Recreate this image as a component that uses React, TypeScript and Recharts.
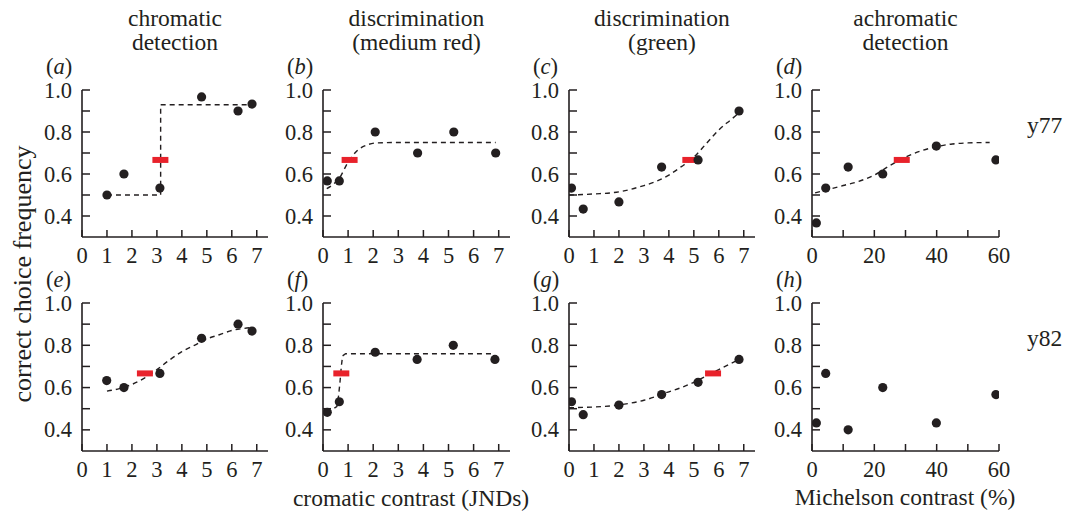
import { ComposedChart, Line, Scatter, XAxis, YAxis } from 'recharts'

const FONT = 'Liberation Serif, Times New Roman, serif'
const INK = '#231f20'
const RED = '#e8222b'

// axes
const jndTicks = [0, 1, 2, 3, 4, 5, 6, 7]
const michelsonTicks = [0, 10, 20, 30, 40, 50, 60]
const michelsonLabels = [0, 20, 40, 60]
const yTicks = [0.4, 0.5, 0.6, 0.7, 0.8, 0.9, 1.0]

// (a) chromatic detection, y77
const aX = [1.0, 1.68, 3.12, 4.79, 6.25, 6.81]
const aY = [0.5, 0.6, 0.533, 0.967, 0.9, 0.933]
const aFitX = [1.0, 3.15, 3.15, 6.8]
const aFitY = [0.5, 0.5, 0.93, 0.93]
const aThreshold = [3.14, 0.667]

// (b) discrimination medium red, y77
const bX = [0.17, 0.65, 2.08, 3.77, 5.21, 6.88]
const bY = [0.567, 0.567, 0.8, 0.7, 0.8, 0.7]
const bFitX = [0.15, 0.4, 0.65, 0.97, 1.35, 1.75, 2.1, 3, 5, 6.88]
const bFitY = [0.53, 0.55, 0.58, 0.65, 0.71, 0.738, 0.748, 0.75, 0.75, 0.75]
const bThreshold = [1.06, 0.667]

// (c) discrimination green, y77
const cX = [0.1, 0.57, 2.0, 3.71, 5.17, 6.81]
const cY = [0.533, 0.433, 0.467, 0.633, 0.667, 0.9]
const cFitX = [0, 1, 2, 3, 3.5, 4, 4.5, 5, 5.5, 6, 6.5, 6.85]
const cFitY = [0.5, 0.505, 0.515, 0.545, 0.565, 0.595, 0.635, 0.68, 0.745, 0.81, 0.86, 0.895]
const cThreshold = [4.86, 0.667]

// (d) achromatic detection, y77
const dX = [1.4, 4.4, 11.6, 22.7, 39.9, 59]
const dY = [0.367, 0.533, 0.633, 0.6, 0.733, 0.667]
const dFitX = [1, 5, 10, 15, 20, 25, 30, 35, 40, 45, 50, 57]
const dFitY = [0.51, 0.525, 0.545, 0.565, 0.595, 0.64, 0.68, 0.71, 0.73, 0.743, 0.748, 0.75]
const dThreshold = [28.8, 0.667]

// (e) chromatic detection, y82
const eX = [0.99, 1.68, 3.12, 4.79, 6.25, 6.81]
const eY = [0.633, 0.6, 0.667, 0.833, 0.9, 0.867]
const eFitX = [1, 1.5, 2, 2.5, 3, 3.5, 4, 4.5, 5, 5.5, 6, 6.5, 6.85]
const eFitY = [0.583, 0.595, 0.615, 0.645, 0.685, 0.73, 0.77, 0.8, 0.83, 0.85, 0.87, 0.88, 0.885]
const eThreshold = [2.52, 0.667]

// (f) discrimination medium red, y82
const fX = [0.17, 0.65, 2.08, 3.75, 5.19, 6.85]
const fY = [0.483, 0.533, 0.767, 0.733, 0.8, 0.733]
const fFitX = [0.15, 0.55, 0.62, 0.68, 0.73, 0.78, 0.9, 6.85]
const fFitY = [0.48, 0.51, 0.56, 0.63, 0.7, 0.75, 0.76, 0.76]
const fThreshold = [0.73, 0.667]

// (g) discrimination green, y82
const gX = [0.1, 0.57, 2.0, 3.71, 5.17, 6.81]
const gY = [0.533, 0.472, 0.517, 0.567, 0.625, 0.733]
const gFitX = [0, 1, 2, 3, 4, 4.5, 5, 5.5, 6, 6.5, 6.85]
const gFitY = [0.505, 0.508, 0.518, 0.54, 0.58, 0.6, 0.625, 0.655, 0.685, 0.715, 0.735]
const gThreshold = [5.77, 0.667]

// (h) achromatic detection, y82 (no fit)
const hX = [1.4, 4.4, 11.6, 22.7, 39.9, 59]
const hY = [0.433, 0.667, 0.4, 0.6, 0.433, 0.567]

const zip = (xs: number[], ys: number[]) => xs.map((x, i) => ({ x, y: ys[i] }))

const txt = (size: number) => ({ fontFamily: FONT, fontSize: size })

function XTick(p: any) {
  const { x, y, payload, labels } = p
  const v = payload.value
  return (
    <g>
      <line x1={x} x2={x} y1={y} y2={y - 7} stroke={INK} strokeWidth={1.5} />
      {labels.includes(v) && (
        <text x={x} y={y + 26} textAnchor="middle" style={txt(22.5)} fill={INK}>
          {v}
        </text>
      )}
    </g>
  )
}

function YTick(p: any) {
  const { x, y, payload } = p
  const v = payload.value
  const showLabel = Math.round(v * 10) % 2 === 0
  return (
    <g>
      <line x1={x} x2={x + 8} y1={y} y2={y} stroke={INK} strokeWidth={1.5} />
      {showLabel && (
        <text x={x - 10} y={y} textAnchor="end" dominantBaseline="central" style={txt(22.5)} fill={INK}>
          {v.toFixed(1)}
        </text>
      )}
    </g>
  )
}

type PanelProps = {
  left: number
  top: number
  width: number
  height: number
  xMax: number
  xTicks: number[]
  xLabels: number[]
  points: { x: number; y: number }[]
  fit?: { x: number; y: number }[]
  fitType?: 'linear' | 'monotone'
  threshold?: number[]
}

function Panel({ left, top, width, height, xMax, xTicks, xLabels, points, fit, fitType = 'monotone', threshold }: PanelProps) {
  return (
    <div style={{ position: 'absolute', left: left - 60, top: top - 20 }}>
      <ComposedChart width={width + 80} height={height + 60} margin={{ top: 20, right: 20, bottom: 0, left: 0 }}>
        <XAxis
          type="number"
          dataKey="x"
          domain={[0, xMax]}
          ticks={xTicks}
          interval={0}
          height={40}
          tickSize={0}
          tickMargin={0}
          tickLine={false}
          axisLine={{ stroke: INK, strokeWidth: 1.6 }}
          tick={(p: any) => <XTick {...p} labels={xLabels} />}
          allowDataOverflow
        />
        <YAxis
          type="number"
          dataKey="y"
          domain={[0.3, 1]}
          ticks={yTicks}
          interval={0}
          width={60}
          tickSize={0}
          tickMargin={0}
          tickLine={false}
          axisLine={{ stroke: INK, strokeWidth: 1.6 }}
          tick={(p: any) => <YTick {...p} />}
          allowDataOverflow
        />
        {fit && (
          <Line
            data={fit}
            dataKey="y"
            type={fitType}
            stroke={INK}
            strokeWidth={1.4}
            strokeDasharray="5 4"
            dot={false}
            activeDot={false}
            isAnimationActive={false}
          />
        )}
        {threshold && (
          <Scatter
            data={[{ x: threshold[0], y: threshold[1] }]}
            isAnimationActive={false}
            shape={(s: any) => <rect x={s.cx - 8} y={s.cy - 3} width={16} height={6} fill={RED} />}
          />
        )}
        <Scatter
          data={points}
          isAnimationActive={false}
          shape={(s: any) => <circle cx={s.cx} cy={s.cy} r={4.6} fill={INK} />}
        />
      </ComposedChart>
    </div>
  )
}

const colLeft = [82, 323, 569, 812]
const colWidth = [186, 187, 186, 187]
const rowTop = [90, 303]
const rowHeight = [147, 148]

const titles = [
  ['chromatic', 'detection'],
  ['discrimination', '(medium red)'],
  ['discrimination', '(green)'],
  ['achromatic', 'detection'],
]
const panelLetters = [['a', 'b', 'c', 'd'], ['e', 'f', 'g', 'h']]
const animalLabels = ['y77', 'y82']

export default function App() {
  const jnd = { xMax: 7.45, xTicks: jndTicks, xLabels: jndTicks }
  const mich = { xMax: 60, xTicks: michelsonTicks, xLabels: michelsonLabels }
  const box = (r: number, c: number) => ({ left: colLeft[c], top: rowTop[r], width: colWidth[c], height: rowHeight[r] })

  return (
    <div style={{ position: 'absolute', left: 0, top: 0, width: 1067, height: 514, background: '#fff', overflow: 'hidden', fontFamily: FONT }}>
      <Panel {...box(0, 0)} {...jnd} points={zip(aX, aY)} fit={zip(aFitX, aFitY)} fitType="linear" threshold={aThreshold} />
      <Panel {...box(0, 1)} {...jnd} points={zip(bX, bY)} fit={zip(bFitX, bFitY)} threshold={bThreshold} />
      <Panel {...box(0, 2)} {...jnd} points={zip(cX, cY)} fit={zip(cFitX, cFitY)} threshold={cThreshold} />
      <Panel {...box(0, 3)} {...mich} points={zip(dX, dY)} fit={zip(dFitX, dFitY)} threshold={dThreshold} />
      <Panel {...box(1, 0)} {...jnd} points={zip(eX, eY)} fit={zip(eFitX, eFitY)} threshold={eThreshold} />
      <Panel {...box(1, 1)} {...jnd} points={zip(fX, fY)} fit={zip(fFitX, fFitY)} fitType="linear" threshold={fThreshold} />
      <Panel {...box(1, 2)} {...jnd} points={zip(gX, gY)} fit={zip(gFitX, gFitY)} threshold={gThreshold} />
      <Panel {...box(1, 3)} {...mich} points={zip(hX, hY)} />

      <svg width={1067} height={514} style={{ position: 'absolute', left: 0, top: 0, pointerEvents: 'none' }}>
        <g fill={INK}>
          {titles.map((t, c) => (
            <g key={c} textAnchor="middle">
              <text x={colLeft[c] + colWidth[c] / 2} y={26} style={txt(23.5)}>{t[0]}</text>
              <text x={colLeft[c] + colWidth[c] / 2} y={50} style={txt(23.5)}>{t[1]}</text>
            </g>
          ))}
          {panelLetters.map((row, r) =>
            row.map((l, c) => (
              <text key={l} x={colLeft[c] - 36} y={rowTop[r] - 16} style={txt(22.5)}>
                (<tspan fontStyle="italic">{l}</tspan>)
              </text>
            ))
          )}
          {animalLabels.map((l, r) => (
            <text key={l} x={1027} y={rowTop[r] + 43} style={txt(23.5)}>{l}</text>
          ))}
          <text x={411} y={506} textAnchor="middle" style={txt(23.5)}>cromatic contrast (JNDs)</text>
          <text x={905} y={505} textAnchor="middle" style={txt(23.5)}>Michelson contrast (%)</text>
          <text transform="translate(31, 274) rotate(-90)" textAnchor="middle" style={txt(26)}>correct choice frequency</text>
        </g>
      </svg>
    </div>
  )
}
